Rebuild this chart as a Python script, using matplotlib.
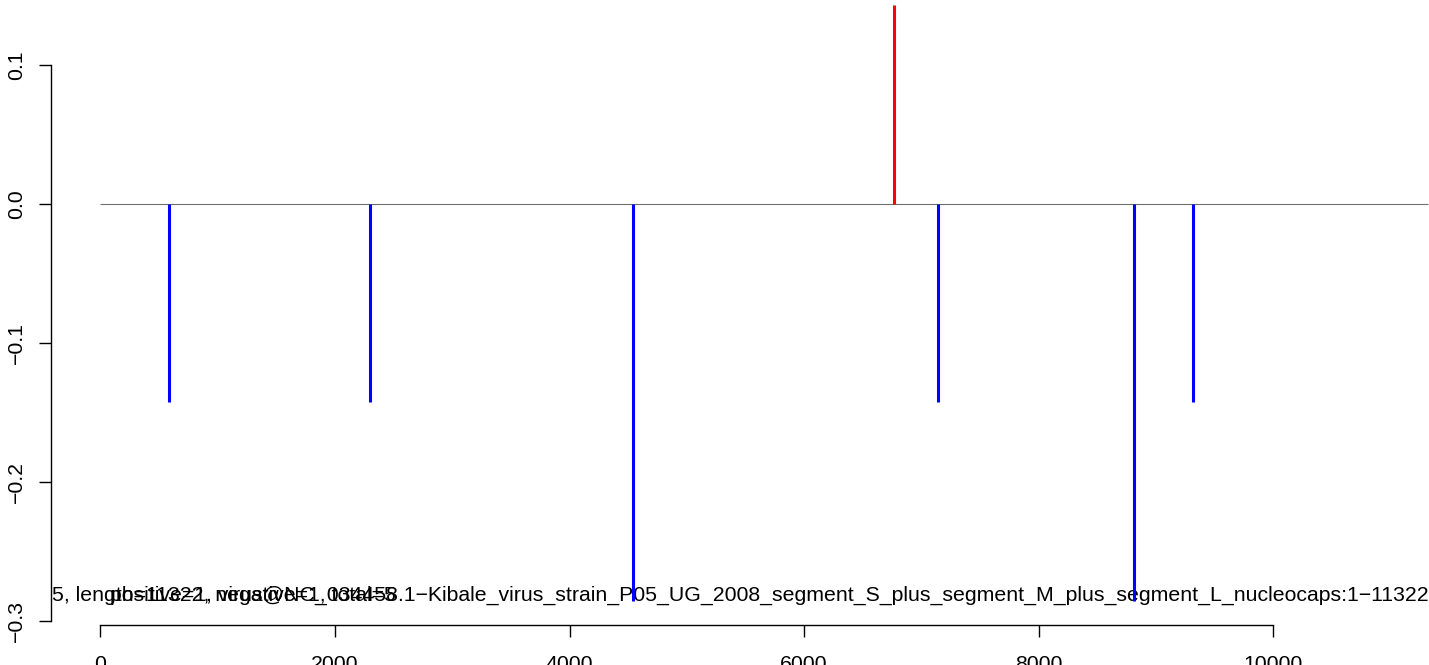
import matplotlib
matplotlib.use('Agg')
import matplotlib.pyplot as plt

plt.rcParams['font.family'] = ['Liberation Sans', 'DejaVu Sans']

# positions (nt) and scores of the hits
neg_pos = [589, 2295, 4539, 7142, 8814, 9317]
neg_val = [-0.1429, -0.1429, -0.2857, -0.1429, -0.2857, -0.1429]
pos_pos = [6766]
pos_val = [0.1429]
seq_len = 11322

x_ticks = [0, 2000, 4000, 6000, 8000, 10000]
y_ticks = [-0.3, -0.2, -0.1, 0.0, 0.1]
y_labels = ['\u22120.3', '\u22120.2', '\u22120.1', '0.0', '0.1']

label_a = '5, length=11322, negative=1, total=5'
label_b = ('positive=1, virus@NC_034458.1\u2212Kibale_virus_strain_P05_UG_2008_segment_S_plus_'
           'segment_M_plus_segment_L_nucleocaps:1\u221211322')

fs = 15.3

fig = plt.figure(figsize=(14.29, 6.65), dpi=100)
ax = fig.add_axes([0, 0, 1, 1])

# pixel scale of the original R plot
xs = 0.1173   # px per nt
ys = 1389.0   # px per unit
x0, y0 = 100.3, 203.9
ax.set_xlim(-x0 / xs, (1429 - x0) / xs)
ax.set_ylim(-(665 - y0) / ys, y0 / ys)

ax.hlines(0, 0, seq_len, color='#707070', lw=0.8, zorder=2)
ax.vlines(neg_pos, 0, neg_val, color='#0000ff', lw=2.2, zorder=3)
ax.vlines(pos_pos, 0, pos_val, color='#ff0000', lw=2.2, zorder=3)

ax.text((52 - x0) / xs, -(601 - y0) / ys, label_a, ha='left', va='baseline',
        fontsize=fs, zorder=1)
ax.text((769 - x0) / xs, -(601 - y0) / ys, label_b, ha='center', va='baseline',
        fontsize=fs, zorder=1)

for s in ['top', 'right']:
    ax.spines[s].set_visible(False)
ax.spines['left'].set_position(('data', (50.7 - x0) / xs))
ax.spines['bottom'].set_position(('data', -(625 - y0) / ys))
ax.spines['left'].set_bounds(-0.3, 0.1)
ax.spines['bottom'].set_bounds(0, 10000)
ax.spines['left'].set_linewidth(1.0)
ax.spines['bottom'].set_linewidth(1.0)

ax.set_xticks(x_ticks)
ax.set_xticklabels([str(t) for t in x_ticks])
ax.set_yticks(y_ticks)
ax.set_yticklabels(y_labels, rotation=90, va='center')
ax.tick_params(axis='both', length=8.6, width=1.0, labelsize=fs, direction='out')
ax.tick_params(axis='x', pad=13)
ax.tick_params(axis='y', pad=9)

fig.savefig('out.png', dpi=100)
